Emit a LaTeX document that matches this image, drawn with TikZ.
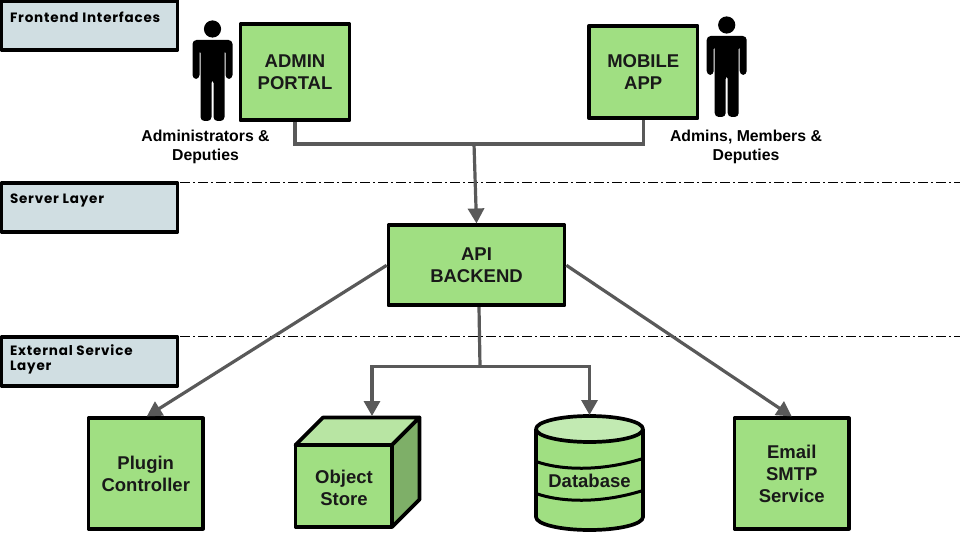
\documentclass[tikz,border=0pt]{standalone}
\usepackage{fontspec}
\setmainfont{Liberation Sans}
\newfontfamily\layerfont[BoldFont={Poppins Bold},LetterSpace=6]{Poppins}
\usetikzlibrary{arrows.meta,calc}
\definecolor{boxgreen}{HTML}{A0DF82}
\definecolor{layerfill}{HTML}{D0DEE2}
\definecolor{linkgray}{HTML}{595959}
\definecolor{facetop}{HTML}{B8E5A3}
\definecolor{faceside}{HTML}{7EAF68}
\definecolor{dbtop}{HTML}{C2EAB2}
\tikzset{
  x=1pt,y=-1pt,
  outline/.style={draw=black,line width=3.7pt,line join=round},
  greenbox/.style={outline,fill=boxgreen,rectangle,inner sep=0pt,outer sep=1.85pt,align=center,font=\bfseries\fontsize{18.5}{22}\selectfont,text=black!90},
  layerbox/.style={outline,fill=layerfill,rectangle,inner sep=0pt,outer sep=0pt},
  layertext/.style={anchor=north west,inner sep=0pt,outer sep=0pt,align=left,font=\layerfont\bfseries\fontsize{13.5}{15}\selectfont},
  caption/.style={inner sep=0pt,outer sep=0pt,align=center,font=\bfseries\fontsize{15.8}{19}\selectfont},
  shapetext/.style={inner sep=0pt,align=center,font=\bfseries\fontsize{18.5}{22}\selectfont,text=black!90},
  extent/.style={rectangle,inner sep=0pt,outer sep=0pt},
  link/.style={draw=linkgray,line width=3.2pt,line join=miter},
  arrowlink/.style={link,-{Triangle[length=15pt,width=16pt]}},
  divider/.style={draw=black,line width=0.8pt,dash pattern=on 10pt off 3pt on 2pt off 3pt},
  person/.pic={
    \fill[black] (0,0) circle[radius=8.6];
    \fill[black,rounded corners=4pt] (-20,50) -- (-20,11) -- (20,11) -- (20,50) -- (13,50) -- (13,20) -- (12,20) -- (12,92) -- (1,92) -- (1,50) -- (-1,50) -- (-1,92) -- (-12,92) -- (-12,20) -- (-13,20) -- (-13,50) -- cycle;
  }
}
\newcommand{\gbox}[6]{\node[greenbox,minimum width=#4-#2,minimum height=#5-#3] (#1) at ({(#2+#4)/2},{(#3+#5)/2+0.8}) {#6};}
\newcommand{\lbox}[5]{\node[layerbox,minimum width=#4-#2,minimum height=#5-#3] (#1) at ({(#2+#4)/2},{(#3+#5)/2}) {};}
\begin{document}
\begin{tikzpicture}
\useasboundingbox (0,0) rectangle (960,540);
% dividers
\coordinate (d1a) at (180,182.5); \coordinate (d1b) at (960,182.5);
\coordinate (d2a) at (180,336.5); \coordinate (d2b) at (960,336.5);
\draw[divider] (d1a) -- (d1b);
\draw[divider] (d2a) -- (d2b);
% layer labels
\lbox{lfront}{1.5}{1}{177.5}{50}
\lbox{lserver}{1.5}{183}{177.5}{232}
\lbox{lext}{1.5}{337}{177.5}{386}
\node[layertext] (tfront) at (10,12) {Frontend Interfaces};
\node[layertext] (tserver) at (10,194) {Server Layer};
\node[layertext] (text) at (10,345) {External Service\\Layer};
% main boxes
\gbox{admin}{240.5}{23.5}{349.5}{119.5}{ADMIN\\PORTAL}
\gbox{mobile}{589}{25}{697.5}{117.5}{MOBILE\\APP}
\gbox{api}{388.5}{224.5}{564.5}{304.5}{API\\BACKEND}
\gbox{plugin}{88.5}{417.5}{203}{528}{Plugin\\Controller}
\gbox{email}{734.5}{417.5}{849}{528}{Email\\SMTP\\Service}
% persons
\pic at (212.5,29) {person};
\pic at (726.7,25) {person};
\node[caption] (cadmin) at (205.5,146.5) {Administrators \&\\Deputies};
\node[caption] (cmobile) at (746,146.5) {Admins, Members \&\\Deputies};
% object store
\fill[boxgreen] (295.5,445) rectangle (392,527);
\draw[outline,fill=facetop] (295.5,445) -- (323,417.5) -- (419.5,417.5) -- (392,445) -- cycle;
\draw[outline,fill=faceside] (392,445) -- (419.5,417.5) -- (419.5,499.5) -- (392,527) -- cycle;
\draw[outline,fill=boxgreen] (295.5,445) rectangle (392,527);
\node[shapetext] (objstore) at (344,488) {Object\\Store};
\node[extent,minimum width=124,minimum height=111] (objshape) at (357.5,471.5) {};
% database
\draw[outline,fill=boxgreen] (536,429) -- (536,517) arc[start angle=180,end angle=360,x radius=53.5,y radius=-13] -- (643,429);
\draw[outline,fill=dbtop] (589.5,429) ellipse[x radius=53.5,y radius=13];
\draw[line width=3pt,black] (536,461.5) .. controls (560,470) and (600,472) .. (643,458.5);
\draw[line width=3pt,black] (536,493.5) .. controls (560,502) and (600,504) .. (643,490.5);
\node[shapetext] (dbtext) at (589.5,481) {Database};
\node[extent,minimum width=109,minimum height=116] (dbshape) at (589.5,473) {};
% connectors
\coordinate (jm) at (474,144);
\draw[link] (admin.south) |- (jm) -| (mobile.south);
\draw[arrowlink] (jm) -- (api.north);
\draw[arrowlink] (api.west) -- ([xshift=1pt]plugin.north);
\draw[arrowlink] (api.east) -- (email.north);
\coordinate (bm) at (480,366.5);
\draw[link] ([xshift=2.5pt]api.south) -- (bm);
\draw[arrowlink] (bm) -| ([xshift=14.5pt]objshape.north);
\draw[arrowlink] (bm) -| (dbshape.north);
\end{tikzpicture}
\end{document}
